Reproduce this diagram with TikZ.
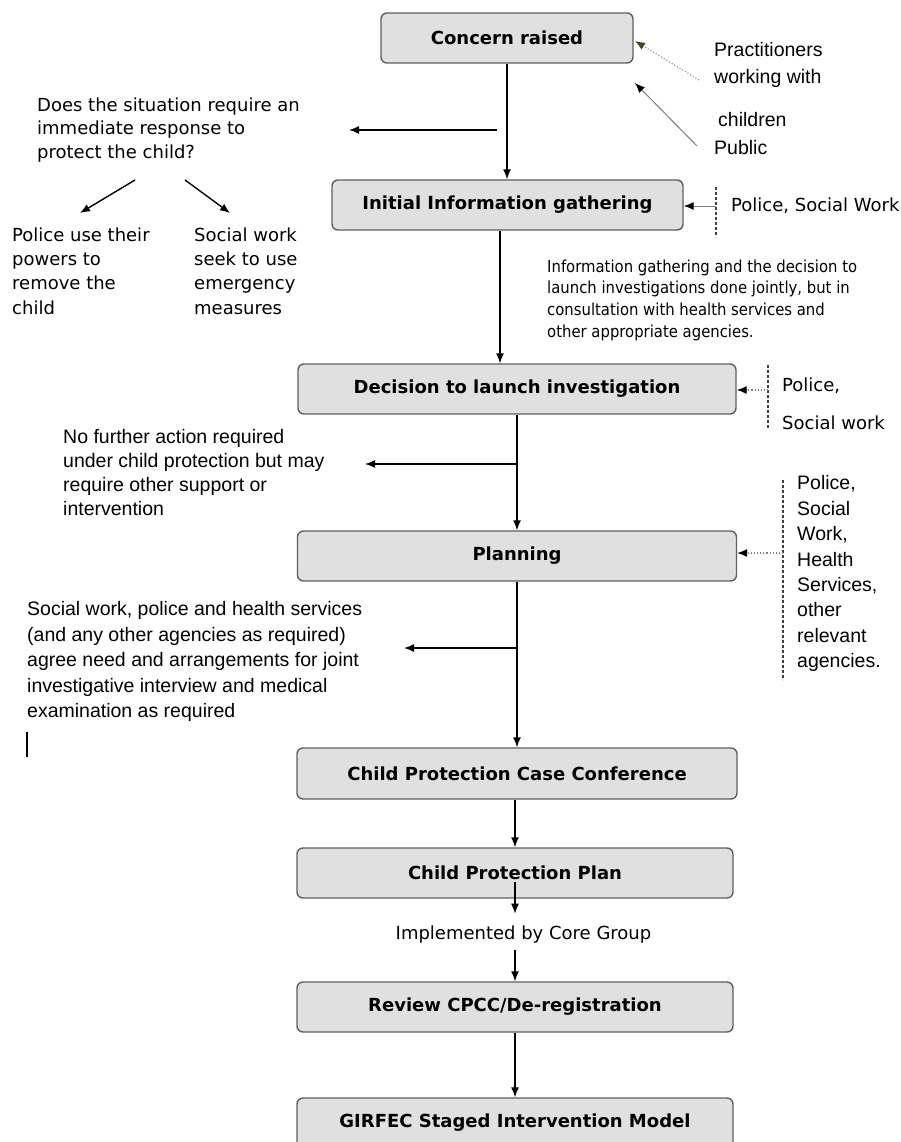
\documentclass[tikz,border=0pt]{standalone}
\usepackage{fontspec}
\setmainfont{DejaVu Sans}
\newfontfamily\ari{Liberation Sans}
\newfontfamily\tahc[FakeStretch=0.9]{DejaVu Sans}
\usetikzlibrary{arrows.meta,calc}
\definecolor{boxfill}{RGB}{224,224,224}
\definecolor{boxline}{RGB}{95,95,95}
\definecolor{tipolive}{RGB}{70,70,30}
\definecolor{lineolive}{RGB}{140,140,105}
\definecolor{sidegray}{RGB}{125,125,125}
\begin{document}
\begin{tikzpicture}[x=1pt,y=-1pt,
  box/.style={draw=boxline, fill=boxfill, line width=1.4pt, rounded corners=6pt,
    minimum height=50pt, inner sep=0pt, font=\bfseries\fontsize{18}{22}\selectfont},
  arr/.style={line width=1.4pt, -{Latex[length=10pt,width=8pt]}},
  sidearr/.style={draw=sidegray, line width=1pt, -{Latex[length=10pt,width=8pt,color=black]}},
  sidedot/.style={draw=sidegray, line width=1.1pt, dotted, -{Latex[length=10pt,width=8pt,color=black]}},
  vdash/.style={draw=black!75, line width=1.3pt, dash pattern=on 3pt off 2pt},
  txt/.style={inner sep=0pt, align=left, anchor=north west},
  tah/.style={font=\fontsize{18}{#1}\selectfont},
  ar/.style={font=\ari\fontsize{19.5}{#1}\selectfont}
]
\useasboundingbox (0,0) rectangle (900,1142);

% main boxes
\node[box, minimum width=252pt] (concern) at (507,38) {Concern raised};
\node[box, minimum width=351pt] (init) at (507.5,205) {Initial Information gathering};
\node[box, minimum width=438pt] (decision) at (517,389) {Decision to launch investigation};
\node[box, minimum width=439pt] (planning) at (517,556) {Planning};
\node[box, minimum width=440pt, minimum height=51pt] (cpcc) at (517,773.5) {Child Protection Case Conference};
\node[box, minimum width=436pt] (cpp) at (515,873) {Child Protection Plan};
\node[box, minimum width=436pt] (review) at (515,1007) {Review CPCC/De-registration};
\node[box, minimum width=436pt] (girfec) at (515,1123) {GIRFEC Staged Intervention Model};

% texts
\node[txt, tah=23.5] (q) at (37,97.5) {Does the situation require an\\immediate response to\\protect the child?};
\node[txt, tah=24.3] (pol) at (12,227.5) {Police use their\\powers to\\remove the\\child};
\node[txt, tah=24.3] (soc) at (194,227.5) {Social work\\seek to use\\emergency\\measures};
\node[txt, ar=27] (prac) at (714,42.5) {Practitioners\\working with\\[16pt]\hspace{4pt}children\\[1pt]Public};
\node[txt, tah=22] (psw) at (731,197.5) {Police, Social Work};
\node[txt, font=\tahc\fontsize{16.5}{21.7}\selectfont] (info) at (547,259.5) {Information gathering and the decision to\\launch investigations done jointly, but in\\consultation with health services and\\other appropriate agencies.};
\node[txt, tah=38] (decpol) at (782,377.5) {Police,\\Social work};
\node[txt, ar=24] (nfa) at (63,429.5) {No further action required\\under child protection but may\\require other support or\\intervention};
\node[txt, ar=25.4] (planpol) at (797,475.5) {Police,\\Social\\Work,\\Health\\Services,\\other\\relevant\\agencies.};
\node[txt, ar=25.5] (swp) at (27,601.5) {Social work, police and health services\\(and any other agencies as required)\\agree need and arrangements for joint\\investigative interview and medical\\examination as required};
\node[inner sep=0pt, tah=22] (impl) at (523.5,935) {Implemented by Core Group};

% coordinates
\coordinate (q1) at (497,130);
\coordinate (q2) at (349,130);
\coordinate (d1s) at (135,180);
\coordinate (d1e) at (80,213);
\coordinate (d2s) at (185,180);
\coordinate (d2e) at (230,213);
\coordinate (nf) at (365,464);
\coordinate (sw) at (404,648);
\coordinate (pr1) at (699,80);
\coordinate (pr2) at (635,41);
\coordinate (pu1) at (697,146);
\coordinate (pu2) at (635,83);
\coordinate (iw1) at (716,187);
\coordinate (iw2) at (716,237);
\coordinate (iwm) at (716,206);
\coordinate (dw1) at (768,365);
\coordinate (dw2) at (768,430);
\coordinate (dwm) at (768,390);
\coordinate (pw1) at (783,480);
\coordinate (pw2) at (783,680);
\coordinate (pwm) at (783,553);
\coordinate (cur1) at (27,732);
\coordinate (cur2) at (27,757);

% main flow
\draw[arr] (concern.south) -- (concern.south |- init.north);
\draw[arr] (q1) -- (q2);
\draw[arr] (d1s) -- (d1e);
\draw[arr] (d2s) -- (d2e);
\draw[arr] ([xshift=-7.5pt]init.south) -- ([xshift=-7.5pt]init.south |- decision.north);
\draw[arr] (decision.south) -- (decision.south |- planning.north);
\draw[arr] (decision.south |- nf) -- (nf);
\draw[arr] (planning.south) -- (planning.south |- cpcc.north);
\draw[arr] (planning.south |- sw) -- (sw);
\draw[arr] (cpp.north |- cpcc.south) -- (cpp.north);
\draw[arr] ($(cpp.center)+(0,9)$) -- ($(cpp.south)+(0,15)$);
\draw[arr] ($(review.north)+(0,-31)$) -- (review.north);
\draw[arr] (review.south) -- (girfec.north);

% side inputs
\draw[draw=lineolive, line width=1.1pt, dotted, -{Latex[length=10pt,width=8pt,color=tipolive]}] (pr1) -- (pr2);
\draw[sidearr] (pu1) -- (pu2);
\draw[vdash] (iw1) -- (iw2);
\draw[sidearr] (iwm) -- (iwm -| init.east);
\draw[vdash] (dw1) -- (dw2);
\draw[sidedot] (dwm) -- (dwm -| decision.east);
\draw[vdash] (pw1) -- (pw2);
\draw[sidedot] (pwm) -- (pwm -| planning.east);

% text cursor mark
\draw[line width=1.5pt] (cur1) -- (cur2);
\end{tikzpicture}
\end{document}
